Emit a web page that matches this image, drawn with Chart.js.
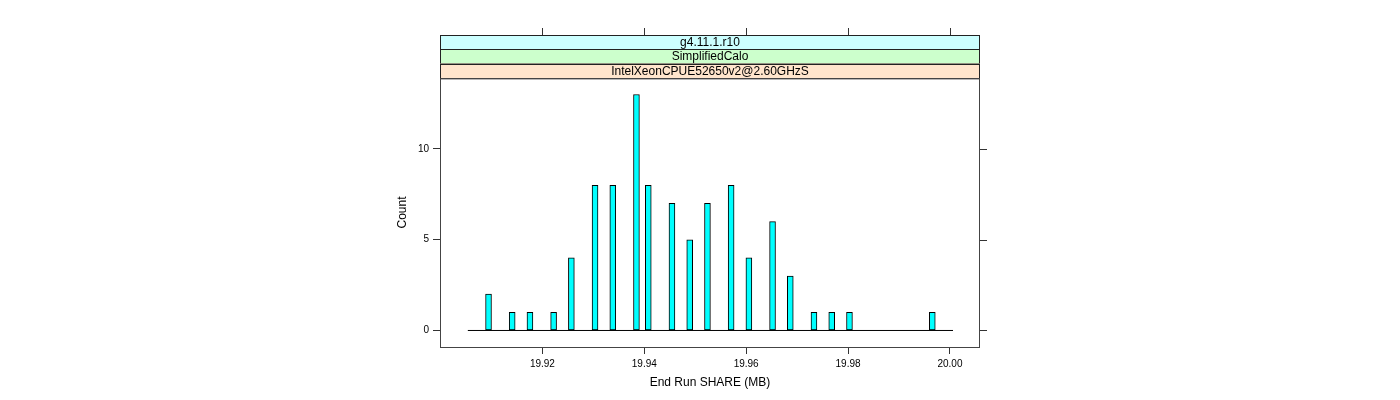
<!DOCTYPE html>
<html>
<head>
<meta charset="utf-8">
<script src="https://cdn.jsdelivr.net/npm/chart.js@4/dist/chart.umd.min.js"></script>
<style>
  html, body { margin: 0; padding: 0; background: #fff; }
  #wrap { width: 1400px; height: 400px; }
</style>
</head>
<body>
<div id="wrap"><canvas id="chart" width="1400" height="400"></canvas></div>
<script>
// histogram bins (End Run SHARE, MB)
const binStart = 19.90536;
const binWidth = 0.0011615;
const counts = [
  0, 0, 0, 2, 0, 0, 0, 1, 0, 0,
  1, 0, 0, 0, 1, 0, 0, 4, 0, 0,
  0, 8, 0, 0, 8, 0, 0, 0, 13, 0,
  8, 0, 0, 0, 7, 0, 0, 5, 0, 0,
  7, 0, 0, 0, 8, 0, 0, 4, 0, 0,
  0, 6, 0, 0, 3, 0, 0, 0, 1, 0,
  0, 1, 0, 0, 1, 0, 0, 0, 0, 0,
  0, 0, 0, 0, 0, 0, 0, 0, 1, 0,
  0, 0
];
const xTicks = [19.92, 19.94, 19.96, 19.98, 20.00];
const yTicks = [0, 5, 10];
const xLimits = [19.8999, 20.0059];
const yLimits = [-0.91, 13.91];
// strips, top to bottom
const stripLabels = ["g4.11.1.r10", "SimplifiedCalo", "IntelXeonCPUE52650v2@2.60GHzS"];
const stripColors = ["#ccffff", "#ccffcc", "#ffe5cc"];

const FONT = "'Liberation Sans', Arial, Helvetica, sans-serif";

const barData = counts.map((c, i) => ({ x: binStart + (i + 0.5) * binWidth, y: c }));
const baseData = [
  { x: binStart, y: 0 },
  { x: binStart + counts.length * binWidth, y: 0 }
];

// panel box, strips and the extra ticks on top / right
const latticeFrame = {
  id: "latticeFrame",
  afterDraw(chart) {
    const ctx = chart.ctx;
    const a = chart.chartArea;
    const xs = chart.scales.x;
    const ys = chart.scales.y;
    const stripH = 14.33;
    const stripTop = a.top - stripH * stripLabels.length;

    ctx.save();
    // strips
    stripLabels.forEach((lab, i) => {
      const y0 = stripTop + i * stripH;
      ctx.fillStyle = stripColors[i];
      ctx.fillRect(a.left, y0, a.right - a.left, stripH);
      ctx.strokeStyle = "#222";
      ctx.lineWidth = 1;
      ctx.strokeRect(a.left + 0.5, Math.round(y0) + 0.5, a.right - a.left - 1, stripH);
      ctx.fillStyle = "#000";
      ctx.font = "12px " + FONT;
      ctx.textAlign = "center";
      ctx.textBaseline = "middle";
      ctx.fillText(lab, (a.left + a.right) / 2, y0 + stripH / 2 + 0.5);
    });

    // panel box
    ctx.strokeStyle = "#444";
    ctx.lineWidth = 1;
    ctx.strokeRect(a.left + 0.5, a.top + 0.5, a.right - a.left - 1, a.bottom - a.top);

    // top ticks above strips
    ctx.strokeStyle = "#333";
    ctx.beginPath();
    xTicks.forEach(v => {
      const px = Math.round(xs.getPixelForValue(v)) + 0.5;
      ctx.moveTo(px, stripTop);
      ctx.lineTo(px, stripTop - 7);
    });
    // right ticks
    yTicks.forEach(v => {
      const py = Math.round(ys.getPixelForValue(v)) + 0.5;
      ctx.moveTo(a.right, py);
      ctx.lineTo(a.right + 7, py);
    });
    ctx.stroke();
    ctx.restore();
  }
};

new Chart(document.getElementById("chart"), {
  type: "bar",
  data: {
    datasets: [
      {
        type: "bar",
        data: barData,
        backgroundColor: "#00ffff",
        borderColor: "#000",
        borderWidth: 1,
        borderSkipped: false,
        barPercentage: 1,
        categoryPercentage: 1,
        order: 0
      },
      {
        type: "line",
        data: baseData,
        borderColor: "#000",
        borderWidth: 1,
        pointRadius: 0,
        order: 1
      }
    ]
  },
  plugins: [latticeFrame],
  options: {
    responsive: false,
    devicePixelRatio: 1,
    animation: false,
    layout: { padding: { left: 380, right: 420, top: 78, bottom: 0 } },
    plugins: {
      legend: { display: false },
      tooltip: { enabled: false }
    },
    scales: {
      x: {
        type: "linear",
        offset: false,
        min: xLimits[0],
        max: xLimits[1],
        afterBuildTicks: s => { s.ticks = xTicks.map(v => ({ value: v })); },
        afterFit: s => { s.height = 53; },
        border: { display: false },
        grid: { offset: false, drawOnChartArea: false, drawTicks: true, tickLength: 7, color: "#333" },
        ticks: {
          padding: 4,
          color: "#000",
          maxRotation: 0,
          font: { family: FONT, size: 10 },
          callback: v => Number(v).toFixed(2)
        },
        title: {
          display: true,
          text: "End Run SHARE (MB)",
          color: "#000",
          font: { family: FONT, size: 12 },
          padding: { top: 0, bottom: 10 }
        }
      },
      y: {
        min: yLimits[0],
        max: yLimits[1],
        afterBuildTicks: s => { s.ticks = yTicks.map(v => ({ value: v })); },
        afterFit: s => { s.width = 60; },
        border: { display: false },
        grid: { drawOnChartArea: false, drawTicks: true, tickLength: 7, color: "#333" },
        ticks: {
          padding: 4,
          color: "#000",
          font: { family: FONT, size: 10 }
        },
        title: {
          display: true,
          text: "Count",
          color: "#000",
          font: { family: FONT, size: 12 },
          padding: { top: 15, bottom: 0 }
        }
      }
    }
  }
});
</script>
</body>
</html>
